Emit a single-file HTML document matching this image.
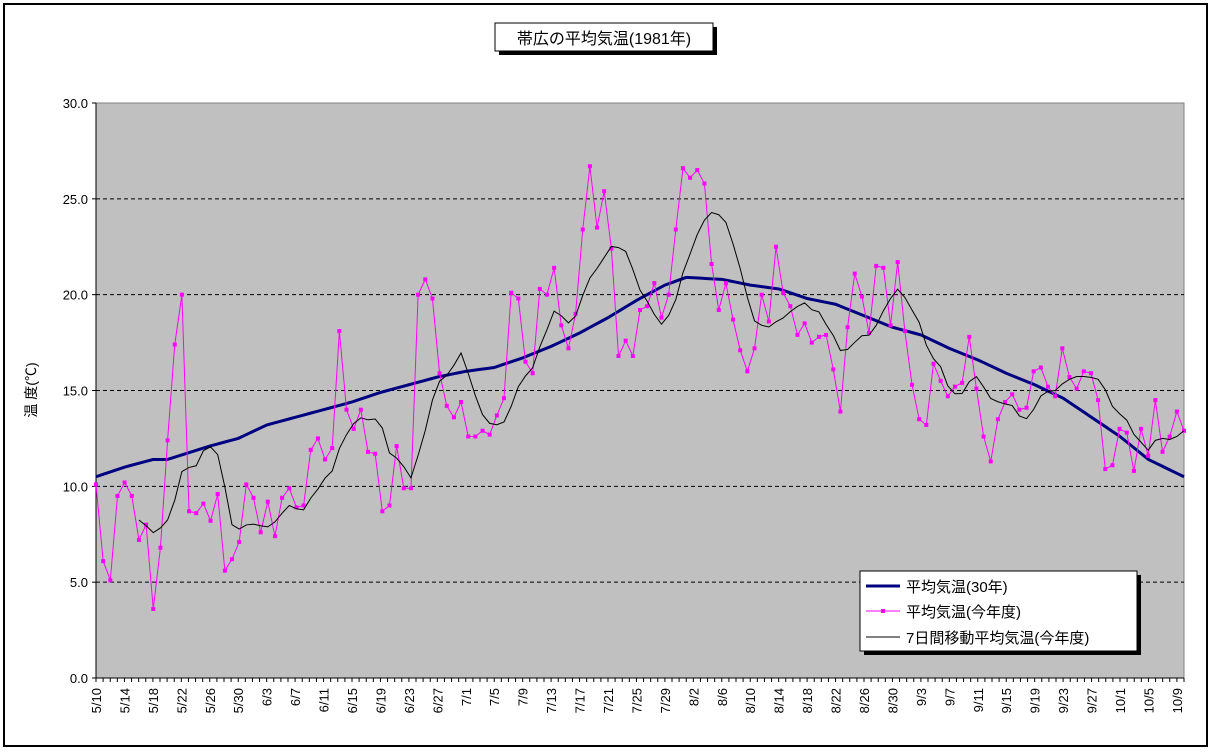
<!DOCTYPE html>
<html><head><meta charset="utf-8"><style>
body{margin:0;background:#fff;}
svg{display:block;font-family:"Liberation Sans","Noto Sans CJK JP",sans-serif;}
</style></head><body>
<svg id="s" width="1213" height="754" xmlns="http://www.w3.org/2000/svg"></svg>
<script>
const s=document.getElementById('s');
const X0=96,X1=1184,Y0=678,Y30=103;
const N=154;
const xs=i=>X0+(X1-X0)*i/(N-1);
const ys=v=>Y0-(Y0-Y30)*v/30;
let h='';
h+='<rect x="4" y="4" width="1203" height="742" fill="#fff" stroke="#000" stroke-width="2"/>';
h+=`<rect x="${X0}" y="${Y30}" width="${X1-X0}" height="${Y0-Y30}" fill="#c0c0c0" stroke="#808080" stroke-width="1"/>`;
for(let v=5;v<30;v+=5){h+=`<line x1="${X0}" x2="${X1}" y1="${ys(v)}" y2="${ys(v)}" stroke="#000" stroke-dasharray="4,3"/>`;}
h+=`<line x1="${X0}" x2="${X0}" y1="${Y30}" y2="${Y0}" stroke="#000"/>`;
h+=`<line x1="${X0}" x2="${X1}" y1="${Y0}" y2="${Y0}" stroke="#000"/>`;
for(let v=0;v<=30;v+=5){h+=`<line x1="${X0-4}" x2="${X0}" y1="${ys(v)}" y2="${ys(v)}" stroke="#000"/><text x="${X0-8}" y="${ys(v)+5}" font-size="13" text-anchor="end">${v.toFixed(1)}</text>`;}
const md=[[5,10,31],[6,1,30],[7,1,31],[8,1,31],[9,1,30],[10,1,10]];
let dates=[];for(const [m,a,b] of md)for(let d=a;d<=b;d++)dates.push(m+'/'+d);
for(let i=0;i<N;i++){const x=xs(i);h+=`<line x1="${x}" x2="${x}" y1="${Y0}" y2="${Y0+4}" stroke="#000"/>`;
 if(i%4==0){h+=`<text transform="translate(${x+5},${Y0+10}) rotate(-90)" font-size="13" text-anchor="end">${dates[i]}</text>`;}}
const key=[[0,10.5],[4,11.0],[8,11.4],[10,11.4],[16,12.1],[20,12.5],[24,13.2],[28,13.6],[32,14.0],[36,14.4],[40,14.9],[44,15.3],[48,15.7],[52,16.0],[56,16.2],[60,16.7],[64,17.3],[68,18.0],[72,18.8],[76,19.7],[80,20.5],[83,20.9],[88,20.8],[92,20.5],[96,20.3],[100,19.8],[104,19.5],[108,18.9],[112,18.3],[116,17.9],[120,17.2],[124,16.6],[128,15.9],[132,15.3],[136,14.6],[140,13.6],[144,12.6],[148,11.4],[153,10.5]];
let np=[];for(let i=0;i<N;i++){for(let k=0;k<key.length-1;k++){if(i>=key[k][0]&&i<=key[k+1][0]){const t=(i-key[k][0])/(key[k+1][0]-key[k][0]);np.push(key[k][1]+(key[k+1][1]-key[k][1])*t);break;}}}
let d=[10.1,6.1,5.1,9.5,10.2,9.5,7.2,8.0,3.6,6.8,12.4,17.4,20.0,8.7,8.6,9.1,8.2,9.6,5.6,6.2,7.1,10.1,9.4,7.6,9.2,7.4,9.4,9.9,8.9,9.0,11.9,12.5,11.4,12.0,18.1,14.0,13.0,14.0,11.8,11.7,8.7,9.0,12.1,9.9,9.9,20.0,20.8,19.8,15.9,14.2,13.6,14.4,12.6,12.6,12.9,12.7,13.7,14.6,20.1,19.8,16.5,15.9,20.3,20.0,21.4,18.4,17.2,19.0,23.4,26.7,23.5,25.4,22.4,16.8,17.6,16.8,19.2,19.4,20.6,18.8,20.0,23.4,26.6,26.1,26.5,25.8,21.6,19.2,20.6,18.7,17.1,16.0,17.2,20.0,18.6,22.5,20.1,19.4,17.9,18.5,17.5,17.8,17.9,16.1,13.9,18.3,21.1,19.9,18.0,21.5,21.4,18.4,21.7,18.1,15.3,13.5,13.2,16.4,15.5,14.7,15.2,15.4,17.8,15.1,12.6,11.3,13.5,14.4,14.8,14.0,14.1,16.0,16.2,15.2,14.7,17.2,15.7,15.1,16.0,15.9,14.5,10.9,11.1,13.0,12.8,10.8,13.0,11.6,14.5,11.8,12.6,13.9,12.9];
const M=d.length;const xd=i=>X0+(X1-X0)*i/(M-1);
h+=`<polyline fill="none" stroke="#000080" stroke-width="3" points="${np.map((v,i)=>xs(i)+','+ys(v)).join(' ')}"/>`;
h+=`<polyline fill="none" stroke="#ff00ff" stroke-width="1" points="${d.map((v,i)=>xd(i)+','+ys(v)).join(' ')}"/>`;
for(let i=0;i<M;i++)h+=`<rect x="${xd(i)-2}" y="${ys(d[i])-2}" width="4" height="4" fill="#ff00ff"/>`;
let ma=[];for(let i=6;i<M;i++){let t=0;for(let j=i-6;j<=i;j++)t+=d[j];ma.push(xd(i)+','+ys(t/7));}
h+=`<polyline fill="none" stroke="#000" stroke-width="1" points="${ma.join(' ')}"/>`;
h+='<rect x="499" y="27" width="218" height="28" fill="#000"/><rect x="495" y="23" width="218" height="28" fill="#fff" stroke="#000"/>';
h+='<text x="604" y="44" font-size="16" text-anchor="middle">帯広の平均気温(1981年)</text>';
h+='<text transform="translate(36,390) rotate(-90)" font-size="14" text-anchor="middle">温 度(℃)</text>';
h+='<rect x="864" y="575" width="277" height="80" fill="#000"/><rect x="860" y="571" width="277" height="80" fill="#fff" stroke="#000"/>';
h+='<line x1="866" x2="900" y1="586" y2="586" stroke="#000080" stroke-width="3"/><text x="906" y="592" font-size="15">平均気温(30年)</text>';
h+='<line x1="866" x2="900" y1="611" y2="611" stroke="#ff00ff"/><rect x="881" y="609" width="4" height="4" fill="#ff00ff"/><text x="906" y="617" font-size="15">平均気温(今年度)</text>';
h+='<line x1="866" x2="900" y1="637" y2="637" stroke="#000"/><text x="906" y="643" font-size="15">7日間移動平均気温(今年度)</text>';
s.innerHTML=h;
</script>
</body></html>
